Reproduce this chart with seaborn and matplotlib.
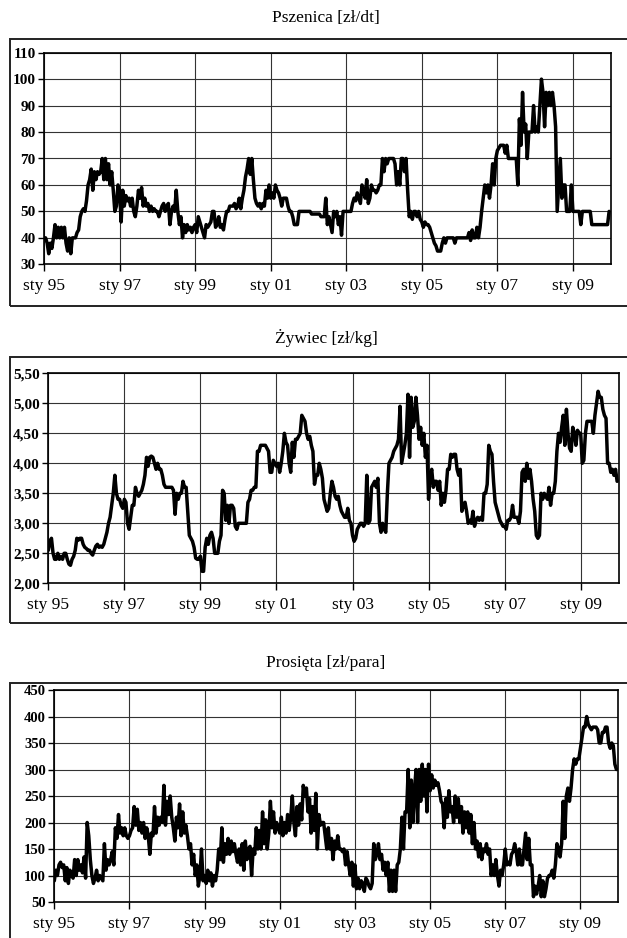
import numpy as np
import pandas as pd
import matplotlib
matplotlib.use("Agg")
import matplotlib.pyplot as plt
import seaborn as sns
from matplotlib.patches import Rectangle

# ---------------- data (semi-monthly readings, Jan 1995 - Dec 2009) ----------------
start_year = 1995
steps_per_year = 24

x_tick_years = [1995, 1997, 1999, 2001, 2003, 2005, 2007, 2009]
x_tick_labels = ["sty 95", "sty 97", "sty 99", "sty 01", "sty 03", "sty 05", "sty 07", "sty 09"]

titles = ["Pszenica [zł/dt]", "Żywiec [zł/kg]", "Prosięta [zł/para]"]

pszenica = [
    40,40,38,34,38,36,40,45,40,44,40,44,40,44,38,35,40,34,40,40,40,42,43,48,
    50,51,50,54,60,62,66,58,65,62,65,64,65,70,62,70,62,68,60,65,58,50,52,60,
    58,46,58,52,56,54,55,52,55,50,48,52,58,55,59,52,55,52,53,50,52,50,51,50,
    50,48,50,52,53,50,52,53,45,50,52,50,58,50,45,48,40,45,42,45,43,44,42,44,
    45,42,48,46,44,42,40,45,44,45,46,50,50,44,45,48,44,45,43,47,50,50,52,52,
    52,53,51,52,55,51,55,58,63,66,70,64,70,62,55,53,52,53,51,53,52,58,55,60,
    55,57,55,60,58,57,55,52,55,55,55,52,50,50,48,45,45,45,50,50,50,50,50,50,
    50,50,49,49,49,49,49,49,48,48,48,55,45,48,45,42,50,48,50,45,48,41,50,50,
    50,50,50,50,53,55,54,57,55,53,60,58,55,62,53,55,60,58,58,57,58,60,60,70,
    65,70,68,70,70,70,70,68,60,65,60,70,70,65,70,58,48,50,47,50,50,48,50,47,
    46,44,46,45,45,44,42,40,38,37,35,35,35,38,40,38,40,40,40,40,40,38,40,40,
    40,40,40,40,40,40,42,39,43,40,40,44,40,44,50,55,60,57,60,55,60,68,60,70,
    73,74,75,75,75,72,75,70,70,70,70,70,70,60,85,75,95,80,83,70,80,80,80,90,
    80,82,80,90,100,95,82,95,90,95,90,95,90,82,50,60,70,55,60,60,50,50,50,60,
    50,50,50,50,50,45,50,50,50,50,50,50,45,45,45,45,45,45,45,45,45,45,45,50,
]

zywiec = [
    2.55,2.7,2.75,2.5,2.4,2.4,2.5,2.4,2.45,2.4,2.5,2.5,2.4,2.32,2.3,2.4,2.45,2.55,2.75,2.72,2.75,2.75,2.65,2.6,
    2.58,2.55,2.55,2.5,2.47,2.55,2.62,2.65,2.6,2.62,2.6,2.65,2.75,2.85,3.0,3.1,3.3,3.5,3.8,3.5,3.4,3.4,3.3,3.25,
    3.4,3.35,3.0,2.9,3.1,3.3,3.3,3.6,3.5,3.45,3.5,3.55,3.65,3.8,4.1,3.95,4.1,4.12,4.1,4.0,3.9,4.0,3.9,3.9,
    3.8,3.65,3.6,3.6,3.6,3.6,3.6,3.55,3.15,3.5,3.4,3.5,3.5,3.7,3.6,3.6,3.2,2.8,2.75,2.7,2.6,2.42,2.4,2.4,
    2.45,2.2,2.2,2.6,2.75,2.65,2.8,2.85,2.75,2.5,2.5,2.5,2.7,2.8,3.55,3.5,3.05,3.3,3.0,3.3,3.3,3.25,2.95,2.9,
    3.0,3.0,3.0,3.0,3.0,3.0,3.35,3.4,3.55,3.55,3.6,3.6,4.2,4.2,4.3,4.3,4.3,4.3,4.25,4.2,3.85,3.85,4.05,4.0,
    3.95,4.0,3.85,4.0,4.2,4.5,4.35,4.3,4.0,3.85,4.35,4.1,4.4,4.4,4.45,4.5,4.8,4.75,4.7,4.5,4.4,4.45,4.3,4.2,
    3.65,3.8,3.8,4.0,3.9,3.75,3.4,3.3,3.2,3.25,3.5,3.7,3.6,3.45,3.4,3.45,3.3,3.2,3.15,3.1,3.1,3.25,3.05,3.0,
    2.8,2.7,2.75,2.9,2.95,3.0,3.0,2.95,3.0,3.8,3.0,3.05,3.6,3.65,3.7,3.6,3.75,3.0,2.85,3.0,2.9,2.85,3.5,4.0,
    4.05,4.1,4.2,4.25,4.3,4.4,4.95,4.0,4.15,4.3,4.5,5.15,4.1,5.1,4.6,4.7,5.1,4.8,4.4,4.6,4.3,4.5,4.1,4.3,
    3.4,3.8,3.9,3.6,3.7,3.7,3.55,3.7,3.3,3.5,3.35,3.55,3.9,3.9,4.15,4.1,4.15,4.15,3.9,3.8,3.9,3.2,3.3,3.35,
    3.2,3.0,3.05,3.0,3.2,2.95,3.05,3.1,3.05,3.1,3.05,3.5,3.5,3.65,4.3,4.2,4.15,3.7,3.35,3.25,3.15,3.05,3.0,2.95,
    2.95,2.9,3.05,3.05,3.1,3.3,3.1,3.1,3.1,3.0,3.2,3.85,3.9,3.7,4.0,3.75,3.9,3.7,3.4,3.2,2.8,2.75,2.8,3.5,
    3.4,3.5,3.45,3.4,3.6,3.3,3.5,3.5,3.7,4.2,4.5,4.35,4.6,4.8,4.3,4.9,4.5,4.25,4.2,4.6,4.5,4.3,4.55,4.5,
    4.5,4.0,4.05,4.5,4.7,4.7,4.7,4.7,4.5,4.8,5.0,5.2,5.1,5.1,4.9,4.8,4.75,4.0,4.0,3.85,3.9,3.8,3.9,3.7,
]

prosieta = [
    90,110,100,120,125,115,120,90,115,85,110,100,95,130,100,130,110,120,105,135,95,200,175,130,
    100,85,95,110,90,100,95,90,160,110,130,120,130,145,120,190,170,215,180,190,175,190,175,170,
    175,185,190,230,195,225,185,200,180,200,170,190,175,140,180,175,230,180,210,195,210,200,270,195,
    240,215,250,210,190,165,210,190,235,175,220,180,195,175,150,160,120,140,100,120,80,100,150,90,
    100,85,110,90,105,80,100,90,110,150,130,190,125,160,140,170,140,165,145,160,140,125,150,120,
    160,110,165,130,150,155,100,150,140,190,150,185,150,220,160,205,150,180,240,190,220,180,200,190,
    180,210,175,200,180,215,185,210,250,200,175,230,195,235,205,270,250,265,220,245,180,230,185,255,
    150,215,195,200,200,175,150,190,150,170,130,165,150,175,150,150,145,150,120,145,120,100,125,80,
    120,75,95,75,90,85,70,95,90,80,75,85,160,130,140,160,130,140,110,125,100,125,70,110,
    70,110,70,120,125,150,210,150,220,220,300,190,280,200,260,300,200,300,240,310,250,300,220,310,
    260,290,265,280,270,275,260,240,235,190,245,210,260,220,230,200,250,210,245,200,230,180,220,190,
    220,180,215,160,200,150,165,135,160,130,150,145,160,140,150,100,120,100,130,100,80,110,100,120,
    150,120,125,120,140,145,160,145,120,150,120,120,150,180,130,170,120,120,60,80,65,80,100,60,
    90,60,75,95,100,100,110,95,120,160,150,135,160,240,170,250,265,240,265,300,320,310,320,320,
    340,360,380,380,400,385,380,375,380,380,380,375,350,350,370,370,380,380,350,340,350,345,310,300,
]

y_ticks_1 = [30, 40, 50, 60, 70, 80, 90, 100, 110]
y_labels_1 = ["30", "40", "50", "60", "70", "80", "90", "100", "110"]
y_ticks_2 = [2.0, 2.5, 3.0, 3.5, 4.0, 4.5, 5.0, 5.5]
y_labels_2 = ["2,00", "2,50", "3,00", "3,50", "4,00", "4,50", "5,00", "5,50"]
y_ticks_3 = [50, 100, 150, 200, 250, 300, 350, 400, 450]
y_labels_3 = ["50", "100", "150", "200", "250", "300", "350", "400", "450"]

# ---------------- style ----------------
sns.set_theme(style="white")
plt.rcParams['font.family'] = ['Liberation Serif', 'DejaVu Serif']

W, H = 627, 938
fig = plt.figure(figsize=(W / 100, H / 100), dpi=100)

panels = [
    dict(data=pszenica, title=titles[0], yt=y_ticks_1, yl=y_labels_1, ylim=(30, 110),
         area=(44, 52.7, 610.7, 264.3), box=(39, 306), ty=18, yfs=11),
    dict(data=zywiec, title=titles[1], yt=y_ticks_2, yl=y_labels_2, ylim=(2.0, 5.5),
         area=(48.3, 373.3, 618.7, 583.3), box=(357, 623), ty=338, yfs=11),
    dict(data=prosieta, title=titles[2], yt=y_ticks_3, yl=y_labels_3, ylim=(50, 450),
         area=(54.3, 690, 618, 902), box=(683, 950), ty=663, yfs=10.5),
]

for p in panels:
    l, t, r, b = p["area"]
    ax = fig.add_axes([l / W, 1 - b / H, (r - l) / W, (b - t) / H])
    vals = p["data"]
    df = pd.DataFrame({"t": start_year + np.arange(len(vals)) / steps_per_year, "v": vals})
    sns.lineplot(data=df, x="t", y="v", ax=ax, color="black", linewidth=2.5)
    ax.set_xlim(1995, 2010)
    ax.set_ylim(*p["ylim"])
    ax.set_xticks(x_tick_years)
    ax.set_xticklabels(x_tick_labels, fontsize=12.5)
    ax.set_yticks(p["yt"])
    ax.set_yticklabels(p["yl"], fontsize=p["yfs"], fontweight="bold")
    ax.set_xlabel("")
    ax.set_ylabel("")
    ax.grid(True, color="#333333", linewidth=0.8)
    ax.set_axisbelow(True)
    for s in ax.spines.values():
        s.set_color("black")
        s.set_linewidth(1.2)
    ax.tick_params(axis="x", direction="out", length=5, width=1, color="black", pad=5,
                   bottom=True, labelcolor="black")
    ax.tick_params(axis="y", direction="out", length=4, width=1, color="black", pad=2,
                   left=True, labelcolor="black")

    bt, bb = p["box"]
    fig.patches.append(Rectangle((10 / W, 1 - bb / H), 1.2, (bb - bt) / H,
                                 transform=fig.transFigure, fill=False,
                                 edgecolor="#222222", linewidth=1.4, clip_on=False))
    fig.text(326 / W, 1 - p["ty"] / H, p["title"], ha="center", va="center",
             fontsize=12.5, color="black")

fig.savefig("out.png", dpi=100, facecolor="white")
